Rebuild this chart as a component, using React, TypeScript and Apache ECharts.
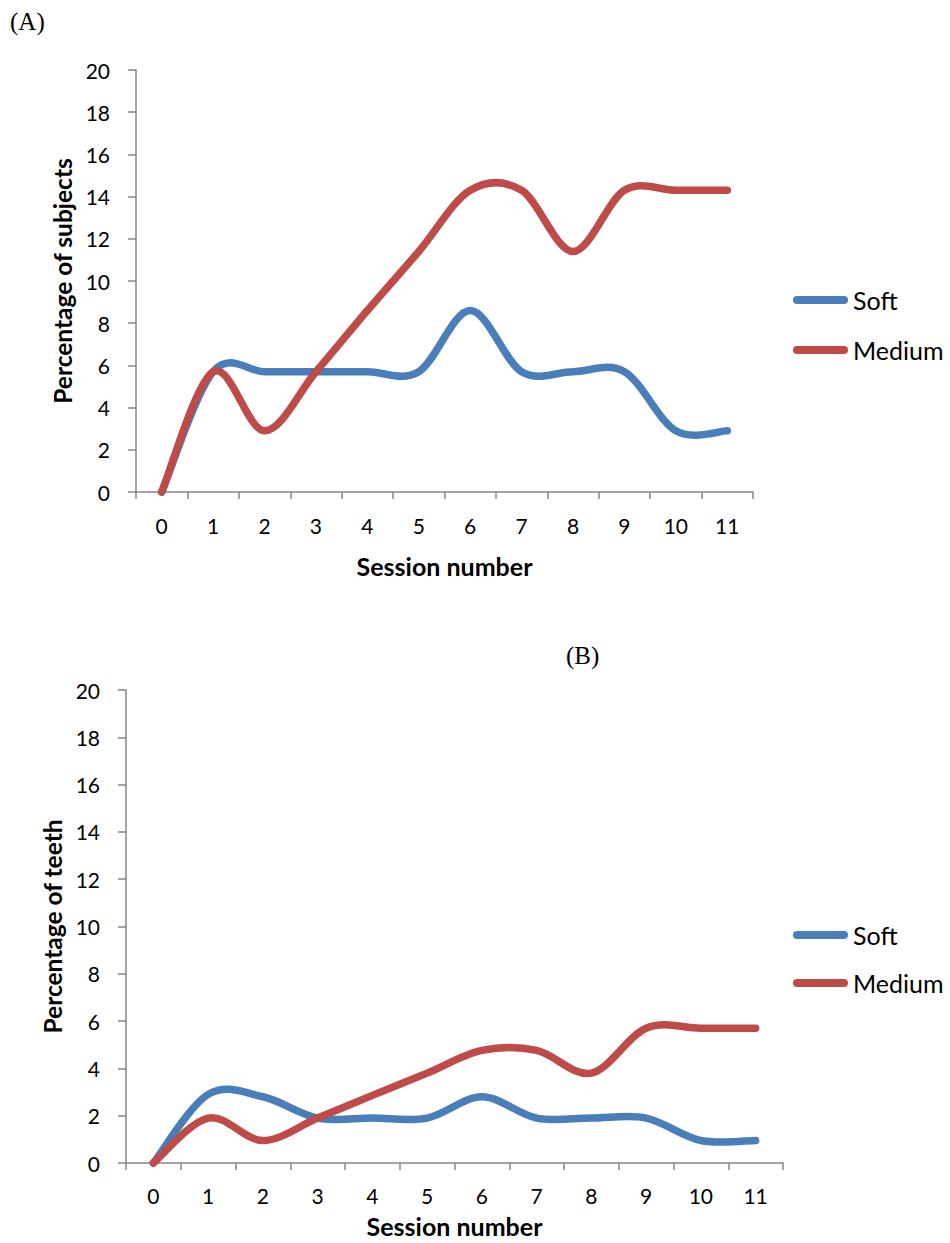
import React, { useEffect, useRef } from "react";
import * as echarts from "echarts";

const sessions = ["0", "1", "2", "3", "4", "5", "6", "7", "8", "9", "10", "11"];

const subjectsSoft = [0, 5.7, 5.7, 5.7, 5.7, 5.7, 8.6, 5.7, 5.7, 5.7, 2.9, 2.9];
const subjectsMedium = [0, 5.7, 2.9, 5.7, 8.6, 11.4, 14.3, 14.3, 11.4, 14.3, 14.3, 14.3];
const teethSoft = [0, 2.9, 2.8, 1.9, 1.9, 1.9, 2.8, 1.9, 1.9, 1.9, 0.95, 0.95];
const teethMedium = [0, 1.9, 0.95, 1.9, 2.86, 3.8, 4.76, 4.76, 3.8, 5.7, 5.7, 5.7];

const seriesNames = ["Soft", "Medium"];
const colors = ["#4A7EBB", "#BE4B48"];

const FONT = "Lato, 'Open Sans', sans-serif";
const AXIS_COLOR = "#868686";
const CAPSULE = "path://M4,0 H51 A4,4 0 0 1 51,8 H4 A4,4 0 0 1 4,0 Z";

export default function App() {
  const ref = useRef<HTMLDivElement>(null);

  useEffect(() => {
    document.body.style.margin = "0";
    const chart = echarts.init(ref.current!, undefined, { renderer: "svg" });

    const xAxisBase = (gridIndex: number, nameGap: number, labelMargin: number) => ({
      type: "category",
      gridIndex,
      data: sessions,
      boundaryGap: true,
      name: "Session number",
      nameLocation: "middle",
      nameGap,
      nameTextStyle: { fontFamily: FONT, fontWeight: "bold", fontSize: 25, color: "#000" },
      axisLine: { lineStyle: { color: AXIS_COLOR, width: 1.5 } },
      axisTick: { show: true, length: 7, lineStyle: { color: AXIS_COLOR, width: 1.5 } },
      axisLabel: { fontFamily: FONT, fontSize: 21, color: "#000", margin: labelMargin, interval: 0 },
      splitLine: { show: false },
    });

    const yAxisBase = (gridIndex: number, name: string) => ({
      type: "value",
      gridIndex,
      min: 0,
      max: 20,
      interval: 2,
      name,
      nameLocation: "middle",
      nameGap: 60,
      nameTextStyle: { fontFamily: FONT, fontWeight: "bold", fontSize: 24.5, color: "#000" },
      axisLine: { show: true, lineStyle: { color: AXIS_COLOR, width: 1.5 } },
      axisTick: { show: true, length: 8, lineStyle: { color: AXIS_COLOR, width: 1.5 } },
      axisLabel: { fontFamily: FONT, fontSize: 21, color: "#000", margin: 26 },
      splitLine: { show: false },
    });

    // Smoothed line drawn like a spreadsheet's "smoothed line" (Catmull-Rom Bezier),
    // positioned through the chart's own axes via api.coord.
    const smoothSeries = (name: string, values: number[], idx: number, color: string) => ({
      type: "custom",
      name,
      xAxisIndex: idx,
      yAxisIndex: idx,
      data: values.map((v, i) => [i, v]),
      encode: { x: 0, y: 1 },
      itemStyle: { color },
      clip: false,
      renderItem: (params: any, api: any) => {
        if (params.dataIndex !== 0) return null;
        const p = values.map((v, i) => api.coord([i, v]));
        const n = p.length;
        let d = `M${p[0][0]},${p[0][1]}`;
        for (let i = 0; i < n - 1; i++) {
          const p0 = p[i - 1] || p[i];
          const p1 = p[i];
          const p2 = p[i + 1];
          const p3 = p[i + 2] || p[i + 1];
          const c1x = p1[0] + (p2[0] - p0[0]) / 6;
          const c1y = p1[1] + (p2[1] - p0[1]) / 6;
          const c2x = p2[0] - (p3[0] - p1[0]) / 6;
          const c2y = p2[1] - (p3[1] - p1[1]) / 6;
          d += ` C${c1x},${c1y} ${c2x},${c2y} ${p2[0]},${p2[1]}`;
        }
        return {
          type: "path",
          shape: { pathData: d },
          silent: true,
          style: { fill: "none", stroke: color, lineWidth: 7.5, lineCap: "round", lineJoin: "round" },
        };
      },
    });

    const legendBase = (top: number, gap: number) => ({
      orient: "vertical",
      left: 793,
      top,
      padding: 0,
      itemGap: gap,
      itemWidth: 55,
      itemHeight: 8,
      icon: CAPSULE,
      data: seriesNames,
      selectedMode: false,
      textStyle: { fontFamily: FONT, fontSize: 25, color: "#000", lineHeight: 30 },
    });

    chart.setOption({
      animation: false,
      color: colors,
      textStyle: { fontFamily: FONT },
      grid: [
        { left: 136, top: 70, width: 617, height: 422 },
        { left: 126, top: 690, width: 657, height: 473 },
      ],
      xAxis: [xAxisBase(0, 61, 23), xAxisBase(1, 50, 22)],
      yAxis: [yAxisBase(0, "Percentage of subjects"), yAxisBase(1, "Percentage of teeth")],
      legend: [legendBase(285, 20), legendBase(920, 18)],
      series: [
        smoothSeries(seriesNames[0], subjectsSoft, 0, colors[0]),
        smoothSeries(seriesNames[1], subjectsMedium, 0, colors[1]),
        smoothSeries(seriesNames[0], teethSoft, 1, colors[0]),
        smoothSeries(seriesNames[1], teethMedium, 1, colors[1]),
      ],
      graphic: [
        {
          type: "text",
          left: 10,
          top: 9,
          style: { text: "(A)", fontFamily: "'Liberation Serif', serif", fontSize: 25, fill: "#000" },
        },
        {
          type: "text",
          left: 566,
          top: 643,
          style: { text: "(B)", fontFamily: "'Liberation Serif', serif", fontSize: 25, fill: "#000" },
        },
      ],
    });

    return () => chart.dispose();
  }, []);

  return <div ref={ref} style={{ width: 950, height: 1243 }} />;
}
